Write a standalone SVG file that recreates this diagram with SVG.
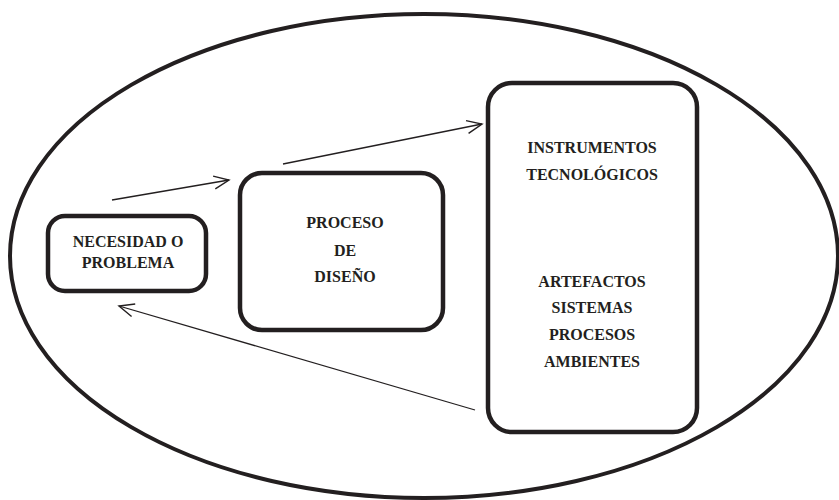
<svg xmlns="http://www.w3.org/2000/svg" width="839" height="500" viewBox="0 0 839 500">
<style>
.box{fill:#fff;stroke:#231f20;stroke-width:4.5}
.lbl{font-family:'Liberation Serif','Tinos','Times New Roman','DejaVu Serif',serif;font-weight:bold;font-size:16px;fill:#231f20;text-anchor:middle}
.conn{stroke:#231f20;stroke-width:1.3;fill:none;marker-end:url(#arr)}
</style>
<defs>
<marker id="arr" markerUnits="userSpaceOnUse" markerWidth="20" markerHeight="20" refX="0" refY="0" viewBox="-16 -10 18 20" orient="auto">
<path d="M-15,-6.5 L0,0 L-15,6.5" fill="none" stroke="#231f20" stroke-width="1.4"/>
</marker>
</defs>
<rect width="839" height="500" fill="#fff"/>
<g id="context">
<ellipse cx="424" cy="256" rx="414" ry="242" fill="none" stroke="#231f20" stroke-width="4"/>
</g>
<g id="connectors">
<line class="conn" x1="112" y1="200" x2="229" y2="180"/>
<line class="conn" x1="283" y1="164" x2="482" y2="124"/>
<line class="conn" x1="475" y1="410" x2="119" y2="306"/>
</g>
<g id="necesidad">
<rect class="box" x="48" y="216" width="158" height="75" rx="17"/>
<text class="lbl" x="128" y="247" font-family="Liberation Serif, serif">NECESIDAD  O</text>
<text class="lbl" x="128" y="268" font-family="Liberation Serif, serif">PROBLEMA</text>
</g>
<g id="proceso">
<rect class="box" x="240" y="173" width="203" height="157" rx="22"/>
<text class="lbl" x="345" y="228">PROCESO</text>
<text class="lbl" x="345" y="256">DE</text>
<text class="lbl" x="345" y="282">DISEÑO</text>
</g>
<g id="instrumentos">
<rect class="box" x="488" y="83" width="209" height="349" rx="24"/>
<text class="lbl" x="592" y="153">INSTRUMENTOS</text>
<text class="lbl" x="592" y="180">TECNOLÓGICOS</text>
<text class="lbl" x="592" y="287">ARTEFACTOS</text>
<text class="lbl" x="592" y="313">SISTEMAS</text>
<text class="lbl" x="592" y="340">PROCESOS</text>
<text class="lbl" x="592" y="367">AMBIENTES</text>
</g>
</svg>
